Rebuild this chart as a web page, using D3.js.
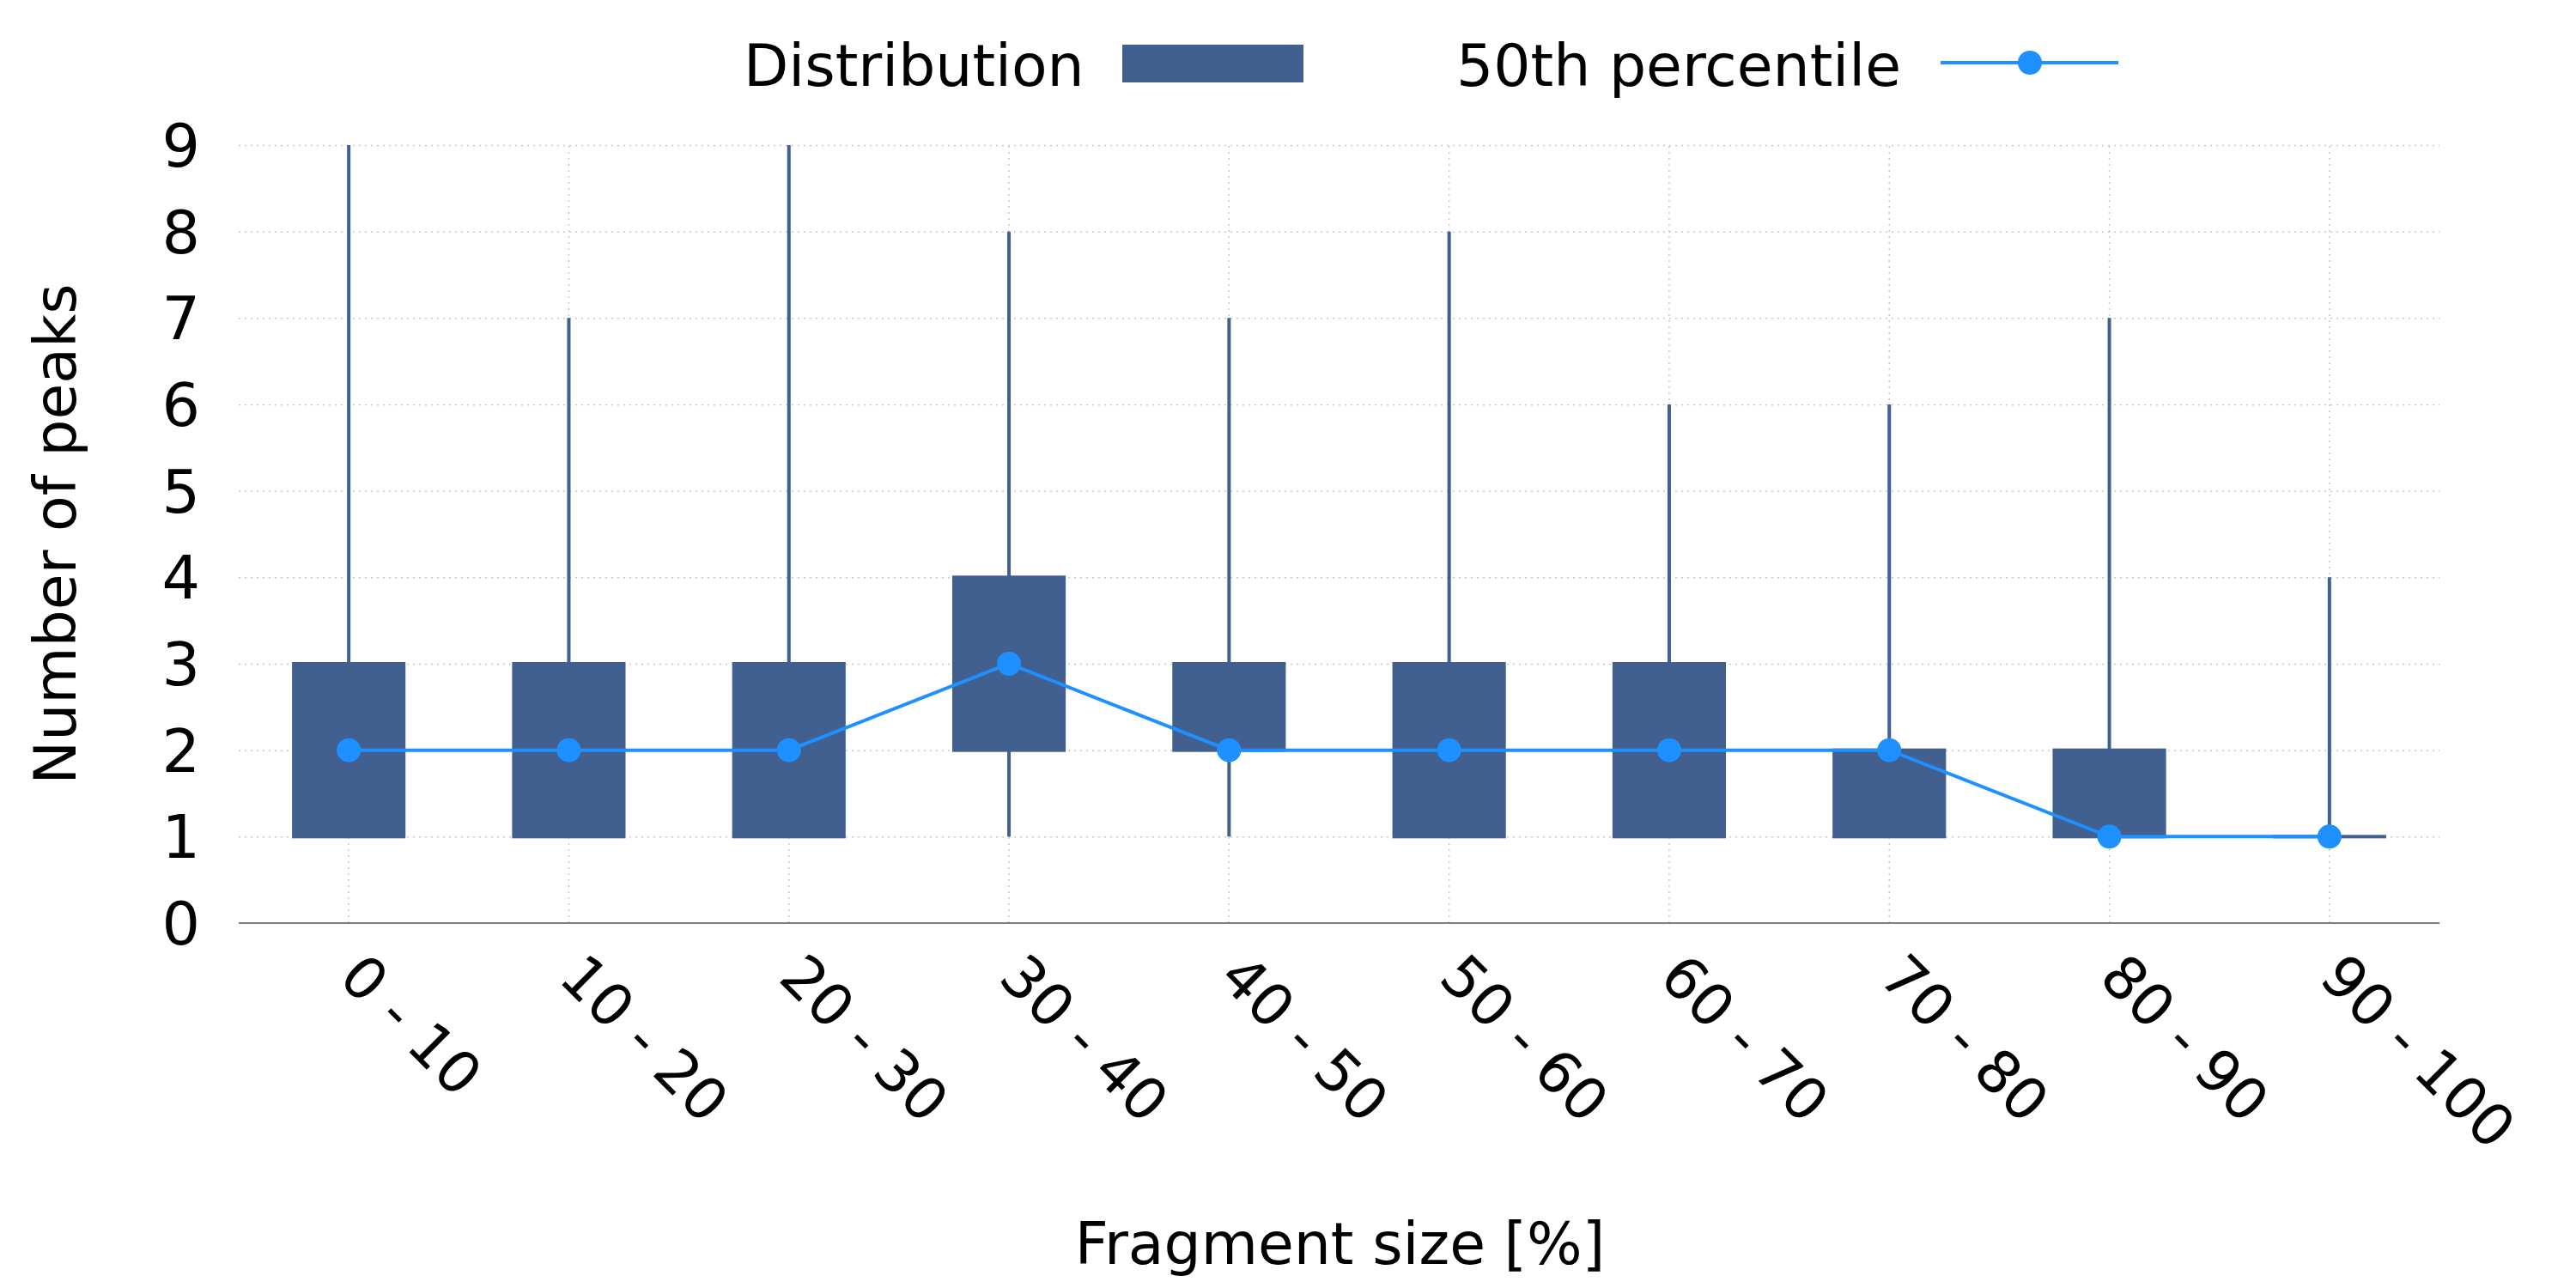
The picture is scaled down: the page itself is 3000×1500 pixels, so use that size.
<!DOCTYPE html>
<html>
<head>
<meta charset="utf-8">
<script src="https://cdn.jsdelivr.net/npm/d3@7"></script>
<style>
    body { margin: 0; background: #fff; }
    text { font-family: "DejaVu Sans", sans-serif; fill: #000; }
</style>
</head>
<body>
<svg id="chart" width="3000" height="1500"></svg>
<script>
// values
var categories = ["0 - 10", "10 - 20", "20 - 30", "30 - 40", "40 - 50", "50 - 60", "60 - 70", "70 - 80", "80 - 90", "90 - 100"];
var mins    = [1, 1, 1, 1, 1, 1, 1, 1, 1, 1];
var q1s     = [1, 1, 1, 2, 2, 1, 1, 1, 1, 1];
var medians = [2, 2, 2, 3, 2, 2, 2, 2, 1, 1];
var q3s     = [3, 3, 3, 4, 3, 3, 3, 2, 2, 1];
var maxs    = [9, 7, 9, 8, 7, 8, 6, 6, 7, 4];
var yTicks  = [0, 1, 2, 3, 4, 5, 6, 7, 8, 9];

var boxColor = "#41608f";
var medColor = "#1e90ff";

var svg = d3.select("#chart");
var plotLeft = 278, plotRight = 2841, plotTop = 169, plotBottom = 1075;

var x = d3.scaleBand()
    .domain(categories)
    .range([plotLeft, plotRight]);

var y = d3.scaleLinear()
    .domain([0, 9])
    .range([plotBottom, plotTop]);

var boxW = x.bandwidth() * 0.5;
var cx = d => x(d.cat) + x.bandwidth() / 2;
var data = categories.map((c, i) => ({
    cat: c, min: mins[i], q1: q1s[i], med: medians[i], q3: q3s[i], max: maxs[i]
}));

// grid
svg.append("g")
    .attr("transform", `translate(${plotLeft},0)`)
    .call(d3.axisLeft(y).tickValues(yTicks.slice(1)).tickSize(-(plotRight - plotLeft)).tickFormat(""))
    .call(g => g.select(".domain").remove())
    .selectAll("line")
    .attr("stroke", "#c8c8c8")
    .attr("stroke-width", 1.5)
    .attr("stroke-dasharray", "2,5");

svg.append("g")
    .attr("transform", `translate(0,${plotBottom})`)
    .call(d3.axisBottom(x).tickSize(-(plotBottom - plotTop)).tickFormat(""))
    .call(g => g.select(".domain").remove())
    .selectAll("line")
    .attr("stroke", "#c8c8c8")
    .attr("stroke-width", 1.5)
    .attr("stroke-dasharray", "2,5");

// baseline
svg.append("line")
    .attr("x1", plotLeft).attr("x2", plotRight)
    .attr("y1", y(0)).attr("y2", y(0))
    .attr("stroke", "#555")
    .attr("stroke-width", 1.5);

// y axis labels
svg.append("g")
    .attr("transform", `translate(${plotLeft},0)`)
    .call(d3.axisLeft(y).tickValues(yTicks).tickSize(0).tickPadding(45))
    .call(g => g.select(".domain").remove())
    .selectAll("text")
    .style("font-size", "70px")
    .attr("dy", "0.35em");

// x axis labels
svg.append("g")
    .attr("transform", `translate(0,${plotBottom})`)
    .call(d3.axisBottom(x).tickSize(0))
    .call(g => g.select(".domain").remove())
    .selectAll("text")
    .style("font-size", "68px")
    .attr("text-anchor", "start")
    .attr("dy", null)
    .attr("y", null)
    .attr("transform", "translate(-14,66) rotate(45)");

// whiskers
var boxes = svg.append("g");
boxes.selectAll(".whisker-top")
    .data(data)
    .enter().append("line")
    .attr("x1", cx)
    .attr("x2", cx)
    .attr("y1", d => y(d.q3))
    .attr("y2", d => y(d.max))
    .attr("stroke", boxColor)
    .attr("stroke-width", 4);

boxes.selectAll(".whisker-bottom")
    .data(data)
    .enter().append("line")
    .attr("x1", cx)
    .attr("x2", cx)
    .attr("y1", d => y(d.q1))
    .attr("y2", d => y(d.min))
    .attr("stroke", boxColor)
    .attr("stroke-width", 4);

// a zero-height rect is not drawn at all, so keep a sliver
boxes.selectAll("rect")
    .data(data)
    .enter().append("rect")
    .attr("x", d => cx(d) - boxW / 2)
    .attr("width", boxW)
    .attr("y", d => y(d.q3))
    .attr("height", d => Math.max(y(d.q1) - y(d.q3), 0.01))
    .attr("fill", boxColor)
    .attr("stroke", boxColor)
    .attr("stroke-width", 4);

// median line
var line = d3.line()
    .x(cx)
    .y(d => y(d.med));

svg.append("path")
    .datum(data)
    .attr("d", line)
    .attr("fill", "none")
    .attr("stroke", medColor)
    .attr("stroke-width", 4);

svg.selectAll(".med-dot")
    .data(data)
    .enter().append("circle")
    .attr("cx", cx)
    .attr("cy", d => y(d.med))
    .attr("r", 14)
    .attr("fill", medColor);

// axis titles
svg.append("text")
    .attr("x", (plotLeft + plotRight) / 2 + 1)
    .attr("y", 1472)
    .attr("text-anchor", "middle")
    .style("font-size", "68px")
    .text("Fragment size [%]");

svg.append("text")
    .attr("transform", `translate(88,${(plotTop + plotBottom) / 2}) rotate(-90)`)
    .attr("text-anchor", "middle")
    .style("font-size", "68px")
    .text("Number of peaks");

// legend
var legend = svg.append("g");
legend.append("text")
    .attr("x", 866).attr("y", 100)
    .style("font-size", "68px")
    .text("Distribution");
legend.append("rect")
    .attr("x", 1307).attr("y", 52)
    .attr("width", 211).attr("height", 44)
    .attr("fill", boxColor);
legend.append("text")
    .attr("x", 1696).attr("y", 100)
    .style("font-size", "68px")
    .text("50th percentile");
legend.append("line")
    .attr("x1", 2260).attr("x2", 2467)
    .attr("y1", 73).attr("y2", 73)
    .attr("stroke", medColor)
    .attr("stroke-width", 4);
legend.append("circle")
    .attr("cx", 2364).attr("cy", 73)
    .attr("r", 14)
    .attr("fill", medColor);
</script>
</body>
</html>
